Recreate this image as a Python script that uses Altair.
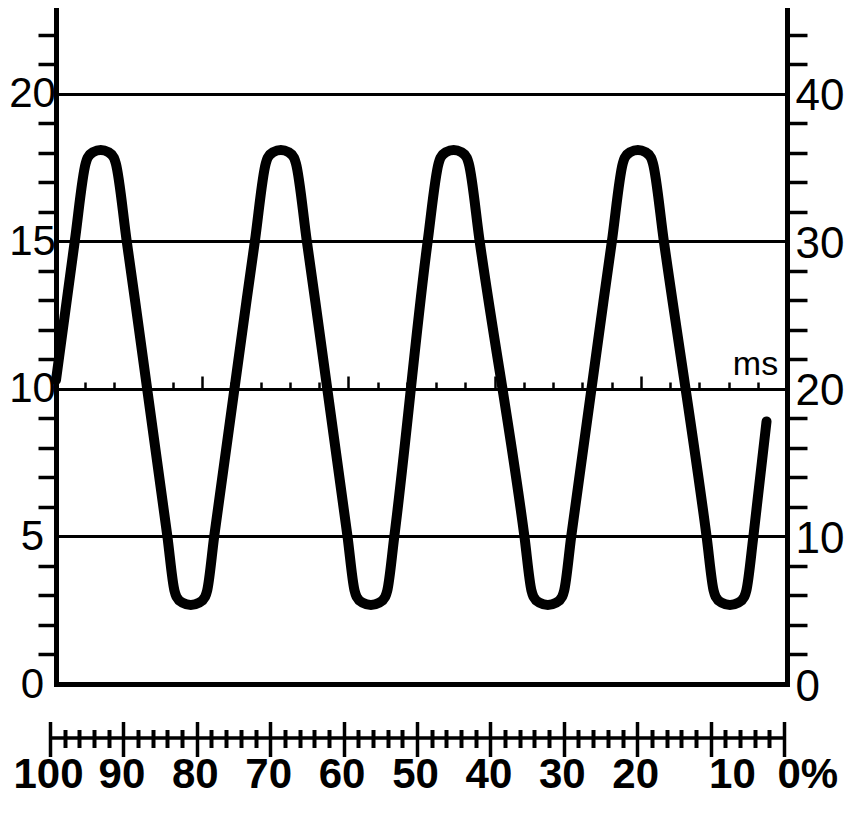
import altair as alt
import pandas as pd

FONT = "Liberation Sans"

# ---- trace: time (ms) and reading on the left scale ----
wave_ms = [0.00,
           0.64, 1.015, 1.08, 1.27, 1.53, 1.79, 1.98, 2.045, 2.42,
           3.81, 4.05, 4.12, 4.32, 4.61, 4.90, 5.10, 5.17, 5.41,
           6.80, 7.175, 7.24, 7.43, 7.69, 7.95, 8.14, 8.205, 8.58,
           9.97, 10.21, 10.28, 10.48, 10.77, 11.06, 11.26, 11.33, 11.57,
           12.71, 13.085, 13.15, 13.34, 13.60, 13.86, 14.05, 14.115, 14.49,
           16.02, 16.26, 16.33, 16.53, 16.82, 17.11, 17.31, 17.38, 17.62,
           19.01, 19.385, 19.45, 19.64, 19.90, 20.16, 20.35, 20.415, 20.79,
           22.25, 22.49, 22.56, 22.76, 23.05, 23.34, 23.54, 23.61, 23.85,
           24.30]
wave_v = [10.3,
          15.0, 17.65, 17.84, 18.03, 18.1, 18.03, 17.84, 17.65, 15.0,
          5.0, 3.17, 2.96, 2.76, 2.68, 2.76, 2.96, 3.17, 5.0,
          15.0, 17.65, 17.84, 18.03, 18.1, 18.03, 17.84, 17.65, 15.0,
          5.0, 3.17, 2.96, 2.76, 2.68, 2.76, 2.96, 3.17, 5.0,
          15.0, 17.65, 17.84, 18.03, 18.1, 18.03, 17.84, 17.65, 15.0,
          5.0, 3.17, 2.96, 2.76, 2.68, 2.76, 2.96, 3.17, 5.0,
          15.0, 17.65, 17.84, 18.03, 18.1, 18.03, 17.84, 17.65, 15.0,
          5.0, 3.17, 2.96, 2.76, 2.68, 2.76, 2.96, 3.17, 5.0,
          8.9]

# ---- scales / tick lists ----
left_ticks = [0, 1, 2, 3, 4, 5, 6, 7, 8, 9, 10, 11, 12, 13, 14, 15, 16, 17, 18, 19, 20, 21, 22]
right_ticks = [0, 2, 4, 6, 8, 10, 12, 14, 16, 18, 20, 22, 24, 26, 28, 30, 32, 34, 36, 38, 40, 42, 44]
ms_ticks = [0, 1, 2, 3, 4, 5, 6, 7, 8, 9, 10, 11, 12, 13, 14, 15, 16, 17, 18, 19, 20, 21, 22, 23, 24, 25]
pct_major = [100, 90, 80, 70, 60, 50, 40, 30, 20, 10, 0]
pct_minor = [98, 96, 94, 92, 88, 86, 84, 82, 78, 76, 74, 72, 68, 66, 64, 62,
             58, 56, 54, 52, 48, 46, 44, 42, 38, 36, 34, 32, 28, 26, 24, 22,
             18, 16, 14, 12, 8, 6, 4, 2]

W = 731
H = 676
LEFT_MAX = 22.915
RIGHT_MAX = 45.83
UNIT = H / LEFT_MAX

wave = pd.DataFrame({"ms": wave_ms, "v": wave_v})
ms_df = pd.DataFrame({"ms": ms_ticks})
right_df = pd.DataFrame({"r": right_ticks})
pct_df = pd.DataFrame({"p": pct_major + pct_minor})

ms_scale = alt.Scale(domain=[0, 25], nice=False, zero=False)
left_scale = alt.Scale(domain=[0, LEFT_MAX], nice=False, zero=False)
right_scale = alt.Scale(domain=[0, RIGHT_MAX], nice=False, zero=False)


def pct_scale():
    return alt.Scale(domain=[100, 0], range=[-6, 728], nice=False, zero=False)


ms_axis = alt.Axis(
    orient="top", offset=-(H - 10 * UNIT), values=ms_ticks,
    labels=False, domain=False, grid=False, ticks=True,
    tickColor="black", tickWidth=2.5,
    tickSize={"condition": {"test": "datum.value % 5 === 0", "value": 13}, "value": 7},
    title="ms", titleFont=FONT, titleFontSize=34, titleFontWeight="normal",
    titleColor="black", titleX=699, titleY=-14, titleAlign="center",
    titleBaseline="alphabetic", titleAngle=0,
)

left_axis = alt.Axis(
    orient="left", values=left_ticks,
    domain=True, domainColor="black", domainWidth=5, domainCap="square",
    ticks=True, tickColor="black", tickWidth=3.5, tickSize=18,
    tickOpacity={"condition": {"test": "datum.value % 5 === 0", "value": 0}, "value": 1},
    grid=True, gridColor="black", gridWidth=3,
    gridOpacity={"condition": {"test": "datum.value % 5 === 0 && datum.value > 0", "value": 1}, "value": 0},
    labelExpr="datum.value % 5 === 0 ? datum.label : ''",
    labelFont=FONT, labelFontSize=42, labelColor="black",
    labelAlign="center", labelBaseline="middle", labelPadding=6,
    labelFlush=False, labelOverlap=False, title=None,
)

right_axis = alt.Axis(
    orient="right", values=right_ticks,
    domain=True, domainColor="black", domainWidth=5, domainCap="square",
    ticks=True, tickColor="black", tickWidth=3.5, tickSize=20,
    tickOpacity={"condition": {"test": "datum.value % 10 === 0", "value": 0}, "value": 1},
    grid=False,
    labelExpr="datum.value % 10 === 0 ? datum.label : ''",
    labelFont=FONT, labelFontSize=44, labelColor="black",
    labelAlign="left", labelBaseline="middle", labelPadding=-12, labelOffset=3,
    labelFlush=False, labelOverlap=False, title=None,
)

frame_axis = alt.Axis(
    orient="bottom", offset=0, domain=True, domainColor="black", domainWidth=5,
    domainCap="square", ticks=False, labels=False, grid=False, title=None,
)

PCT_LINE = 53.5

pct_label_axis = alt.Axis(
    orient="bottom", offset=PCT_LINE, values=pct_major,
    domain=True, domainColor="black", domainWidth=3.5,
    ticks=False, tickSize=0, grid=False,
    labelExpr="datum.value === 0 ? '0%' : datum.label",
    labelFont=FONT, labelFontSize=42, labelFontWeight="bold", labelColor="black",
    labelPadding=17, labelBaseline="top",
    labelAlign={"condition": {"test": "datum.value <= 10", "value": "left"}, "value": "center"},
    labelOffset={"condition": {"test": "datum.value === 0", "value": -7}, "value": -2},
    labelFlush=False, labelOverlap=False, title=None,
)

pct_major_axis = alt.Axis(
    orient="bottom", offset=PCT_LINE - 16, values=pct_major,
    domain=False, labels=False, grid=False, ticks=True,
    tickColor="black", tickWidth=3.5, tickSize=35, title=None,
)

pct_minor_axis = alt.Axis(
    orient="bottom", offset=PCT_LINE - 8, values=pct_minor,
    domain=False, labels=False, grid=False, ticks=True,
    tickColor="black", tickWidth=4, tickSize=18, title=None,
)

wave_layer = alt.Chart(wave).mark_line(
    color="black", strokeWidth=10, strokeCap="round", strokeJoin="round",
    interpolate="monotone",
).encode(
    x=alt.X("ms:Q", scale=ms_scale, axis=ms_axis),
    y=alt.Y("v:Q", scale=left_scale, axis=left_axis),
)

right_layer = alt.Chart(right_df).mark_point(opacity=0).encode(
    y=alt.Y("r:Q", scale=right_scale, axis=right_axis),
)

frame_layer = alt.Chart(ms_df).mark_point(opacity=0).encode(
    x=alt.X("ms:Q", scale=ms_scale, axis=frame_axis),
)

pct_label_layer = alt.Chart(pct_df).mark_point(opacity=0).encode(
    x=alt.X("p:Q", scale=pct_scale(), axis=pct_label_axis),
)
pct_major_layer = alt.Chart(pct_df).mark_point(opacity=0).encode(
    x=alt.X("p:Q", scale=pct_scale(), axis=pct_major_axis),
)
pct_minor_layer = alt.Chart(pct_df).mark_point(opacity=0).encode(
    x=alt.X("p:Q", scale=pct_scale(), axis=pct_minor_axis),
)

chart = alt.layer(
    frame_layer, pct_label_layer, pct_major_layer, pct_minor_layer,
    right_layer, wave_layer,
).resolve_scale(
    x="independent", y="independent"
).resolve_axis(
    x="independent", y="independent"
).properties(
    width=W, height=H,
    padding={"left": 48, "top": 0, "right": 64, "bottom": 120},
    autosize=alt.AutoSizeParams(type="none"),
    background="white",
).configure_view(strokeWidth=0)

chart.save("out.html", embed_options={"renderer": "svg", "actions": False})
